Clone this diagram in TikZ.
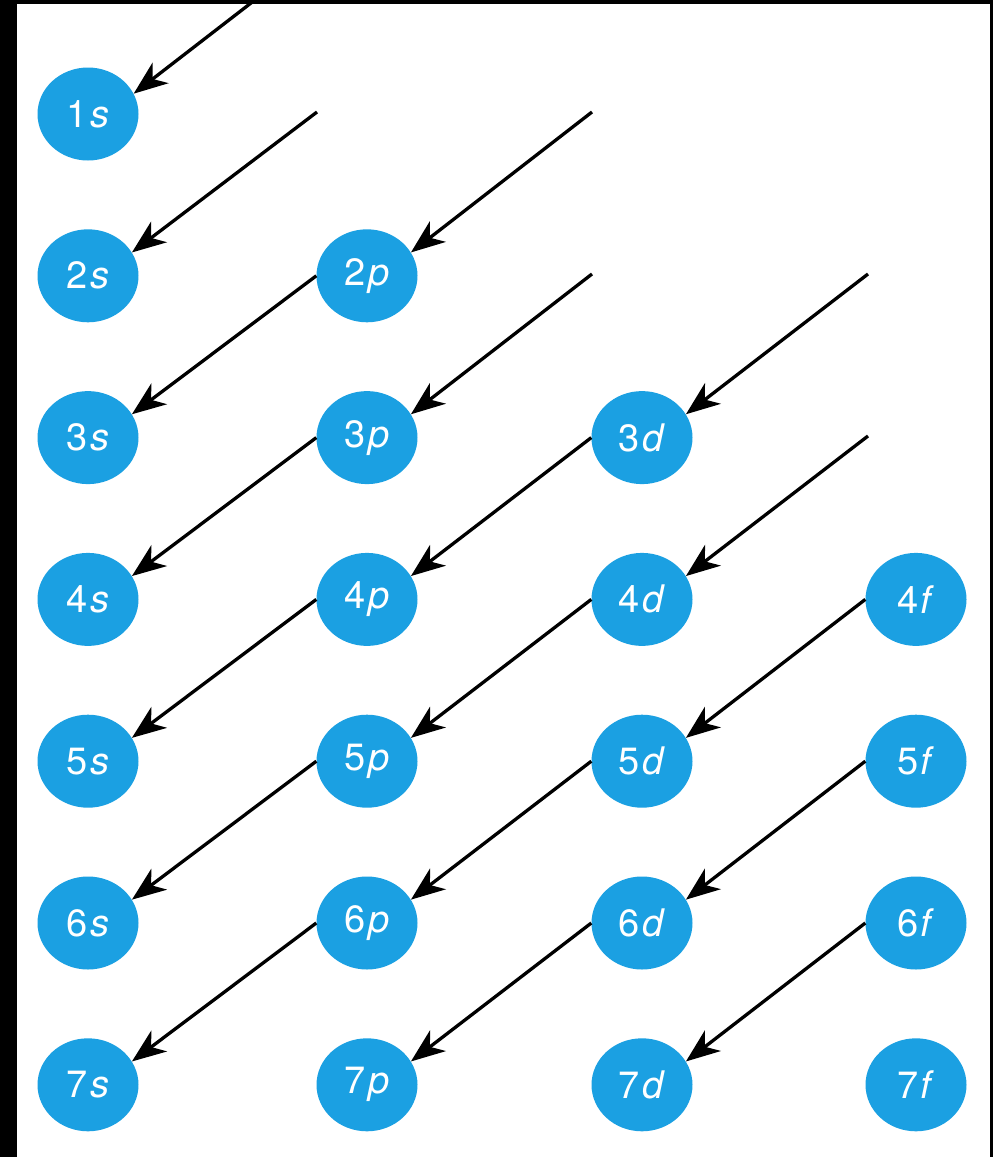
\documentclass[tikz,border=0pt]{standalone}
\usepackage{fontspec}
\setmainfont{TeX Gyre Heros}
\usetikzlibrary{arrows.meta,shapes.geometric}
\definecolor{orb}{RGB}{27,160,226}
\newcommand{\orb}[2]{#1\kern2.5pt\textit{#2}}
\begin{document}
\begin{tikzpicture}[x=1pt,y=-1pt,
  orbital/.style={ellipse, fill=orb, minimum width=101pt, minimum height=93pt,
    inner sep=0pt, text=white, font=\fontsize{38}{38}\selectfont},
  conn/.style={line width=3.3pt, -{Stealth[length=34pt,width=26pt,inset=10pt]}}]
\fill[black] (0,0) rectangle (993,1157);
\fill[white] (17,4) rectangle (990,1157);
\begin{scope}
\clip (17,4) rectangle (990,1157);
% orbitals
\foreach \n in {1,...,7} \node[orbital] (o\n s) at (88,{114+161.8*(\n-1)}) {\orb{\n}{s}};
\foreach \n in {2,...,7} \node[orbital] (o\n p) at (367,{114+161.8*(\n-1)}) {\orb{\n}{p}};
\foreach \n in {3,...,7} \node[orbital] (o\n d) at (642,{114+161.8*(\n-1)}) {\orb{\n}{d}};
\foreach \n in {4,...,7} \node[orbital] (o\n f) at (916,{114+161.8*(\n-1)}) {\orb{\n}{f}};
% free ends
\coordinate (f0p) at (317,-48);
\coordinate (f1p) at (317,112);
\coordinate (f1d) at (592,112);
\coordinate (f2d) at (592,274);
\coordinate (f2f) at (868,274);
\coordinate (f3f) at (868,436);
% connectors
\draw[conn] (f0p) -- (o1s.24);
\draw[conn] (f1p) -- (o2s.28);
\draw[conn] (f1d) -- (o2p.28);
\draw[conn] (o2p.180) -- (o3s.28);
\draw[conn] (f2d) -- (o3p.28);
\draw[conn] (f2f) -- (o3d.28);
\draw[conn] (o3p.180) -- (o4s.28);
\draw[conn] (o3d.180) -- (o4p.28);
\draw[conn] (f3f) -- (o4d.28);
\draw[conn] (o4p.180) -- (o5s.28);
\draw[conn] (o4d.180) -- (o5p.28);
\draw[conn] (o4f.180) -- (o5d.28);
\draw[conn] (o5p.180) -- (o6s.28);
\draw[conn] (o5d.180) -- (o6p.28);
\draw[conn] (o5f.180) -- (o6d.28);
\draw[conn] (o6p.180) -- (o7s.28);
\draw[conn] (o6d.180) -- (o7p.28);
\draw[conn] (o6f.180) -- (o7d.28);
\end{scope}
\end{tikzpicture}
\end{document}
